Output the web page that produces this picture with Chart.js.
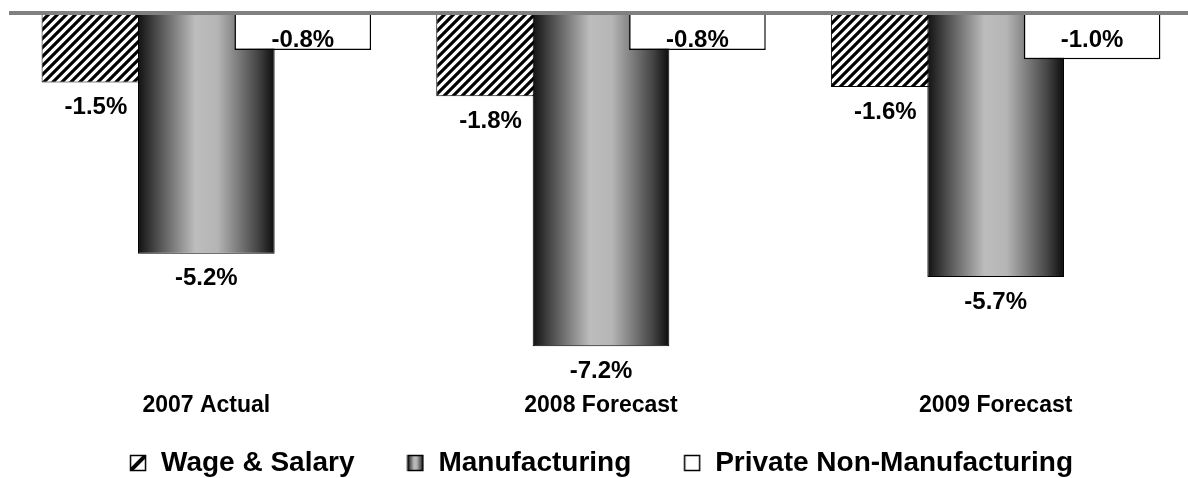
<!DOCTYPE html>
<html>
<head>
<meta charset="utf-8">
<script src="https://cdn.jsdelivr.net/npm/chart.js@4"></script>
<style>
  html, body { margin: 0; padding: 0; background: #fff; overflow: hidden; }
  #wrap { width: 1193px; height: 478px; position: relative; }
</style>
</head>
<body>
<div id="wrap"><canvas id="myChart"></canvas></div>
<script>
const categories = ['2007 Actual', '2008 Forecast', '2009 Forecast'];
const seriesNames = ['Wage & Salary', 'Manufacturing', 'Private Non-Manufacturing'];
const wageSalary = [-1.5, -1.8, -1.6];
const manufacturing = [-5.2, -7.2, -5.7];
const privateNonMfg = [-0.8, -0.8, -1.0];

Chart.defaults.font.family = '"Liberation Sans", Arial, sans-serif';
Chart.defaults.font.weight = 'bold';
Chart.defaults.color = '#000';

// diagonal hatch used by the wage & salary bars
function makeHatch() {
    const s = 9;
    const c = document.createElement('canvas');
    c.width = s; c.height = s;
    const g = c.getContext('2d');
    g.fillStyle = '#fff';
    g.fillRect(0, 0, s, s);
    g.strokeStyle = '#000';
    g.lineWidth = 3.2;
    g.beginPath();
    g.moveTo(-2, s + 2); g.lineTo(s + 2, -2);
    g.moveTo(-2, 2); g.lineTo(2, -2);
    g.moveTo(s - 2, s + 2); g.lineTo(s + 2, s - 2);
    g.stroke();
    return g.createPattern(c, 'repeat');
}
const hatch = makeHatch();

function addSteelStops(grad) {
    grad.addColorStop(0, '#111');
    grad.addColorStop(0.12, '#444');
    grad.addColorStop(0.42, '#bdbdbd');
    grad.addColorStop(0.58, '#b5b5b5');
    grad.addColorStop(0.88, '#444');
    grad.addColorStop(1, '#0c0c0c');
    return grad;
}

// small icons for the legend
function legendIcon(kind) {
    const c = document.createElement('canvas');
    c.width = 18; c.height = 18;
    const g = c.getContext('2d');
    if (kind === 0) {
        g.fillStyle = '#fff'; g.fillRect(1, 1, 16, 16);
        g.save();
        g.beginPath(); g.rect(1, 1, 16, 16); g.clip();
        g.strokeStyle = '#000'; g.lineWidth = 4;
        g.beginPath(); g.moveTo(1, 17); g.lineTo(17, 1); g.stroke();
        g.restore();
    } else if (kind === 1) {
        const gr = addSteelStops(g.createLinearGradient(1, 0, 17, 0));
        g.fillStyle = gr; g.fillRect(1, 1, 16, 16);
    } else {
        g.fillStyle = '#fff'; g.fillRect(1, 1, 16, 16);
    }
    g.strokeStyle = '#000'; g.lineWidth = 1.5;
    g.strokeRect(1.5, 1.5, 15, 15);
    return c;
}

// draw series in index order so the right-hand bar sits on top, like the original
const drawInOrder = {
    id: 'drawInOrder',
    beforeDatasetsDraw(chart) {
        const ctx = chart.ctx;
        chart.data.datasets.forEach((ds, i) => {
            const meta = chart.getDatasetMeta(i);
            if (i === 1) {
                meta.data.forEach(bar => {
                    const base = bar.options.$steel ? Object.getPrototypeOf(bar.options) : bar.options;
                    const grad = addSteelStops(ctx.createLinearGradient(bar.x - bar.width / 2, 0, bar.x + bar.width / 2, 0));
                    bar.options = Object.create(base, {
                        backgroundColor: { value: grad },
                        $steel: { value: true }
                    });
                });
            }
            meta.controller.draw();
        });
        return false;
    },
    afterDraw(chart) {
        const ctx = chart.ctx;
        const zero = chart.scales.y.getPixelForValue(0);
        ctx.save();
        ctx.font = 'bold 24px "Liberation Sans", Arial, sans-serif';
        ctx.fillStyle = '#000';
        ctx.textAlign = 'center';
        ctx.textBaseline = 'middle';
        chart.data.datasets.forEach((ds, i) => {
            chart.getDatasetMeta(i).data.forEach((bar, j) => {
                const txt = ds.data[j].toFixed(1) + '%';
                if (i === 0) ctx.fillText(txt, bar.x - 14, bar.y + 25);
                else if (i === 1) ctx.fillText(txt, bar.x, bar.y + 25);
                else ctx.fillText(txt, bar.x, zero + 27);
            });
        });
        ctx.restore();
    }
};

const ctx = document.getElementById('myChart').getContext('2d');
const chart = new Chart(ctx, {
    type: 'bar',
    data: {
        labels: categories,
        datasets: [
            { label: seriesNames[0], data: wageSalary, backgroundColor: hatch, borderColor: '#000', borderWidth: 1, pointStyle: legendIcon(0) },
            { label: seriesNames[1], data: manufacturing, backgroundColor: '#999', borderColor: '#000', borderWidth: 1, pointStyle: legendIcon(1) },
            { label: seriesNames[2], data: privateNonMfg, backgroundColor: '#fff', borderColor: '#000', borderWidth: 1.5, pointStyle: legendIcon(2) }
        ]
    },
    options: {
        responsive: true,
        maintainAspectRatio: false,
        animation: false,
        categoryPercentage: 0.733,
        barPercentage: 1.417,
        layout: { padding: { top: 13, left: 9, right: 0, bottom: 0 } },
        plugins: {
            tooltip: { enabled: false },
            legend: {
                position: 'bottom',
                maxHeight: 42,
                labels: {
                    usePointStyle: true,
                    pointStyleWidth: 18,
                    boxHeight: 18,
                    padding: 13,
                    font: { size: 28, weight: 'bold' },
                    color: '#000',
                    // wide gaps between entries, as in the original
                    generateLabels: c => {
                        const items = Chart.defaults.plugins.legend.labels.generateLabels(c);
                        items.forEach((it, k) => {
                            if (k < items.length - 1) it.text += '\u00a0'.repeat(5);
                        });
                        return items;
                    }
                }
            }
        },
        scales: {
            x: {
                afterFit: s => { s.height = 52.6; },
                grid: { display: false, drawTicks: false },
                border: { display: false },
                ticks: { font: { size: 23, weight: 'bold' }, color: '#000', padding: 8 }
            },
            y: {
                min: -8,
                max: 0,
                z: 1,
                afterFit: s => { s.width = 0; },
                ticks: { display: false, stepSize: 1 },
                border: { display: false },
                grid: {
                    drawTicks: false,
                    lineWidth: 4,
                    color: c => c.tick && c.tick.value === 0 ? '#808080' : 'rgba(0,0,0,0)'
                }
            }
        }
    },
    plugins: [drawInOrder]
});
</script>
</body>
</html>
